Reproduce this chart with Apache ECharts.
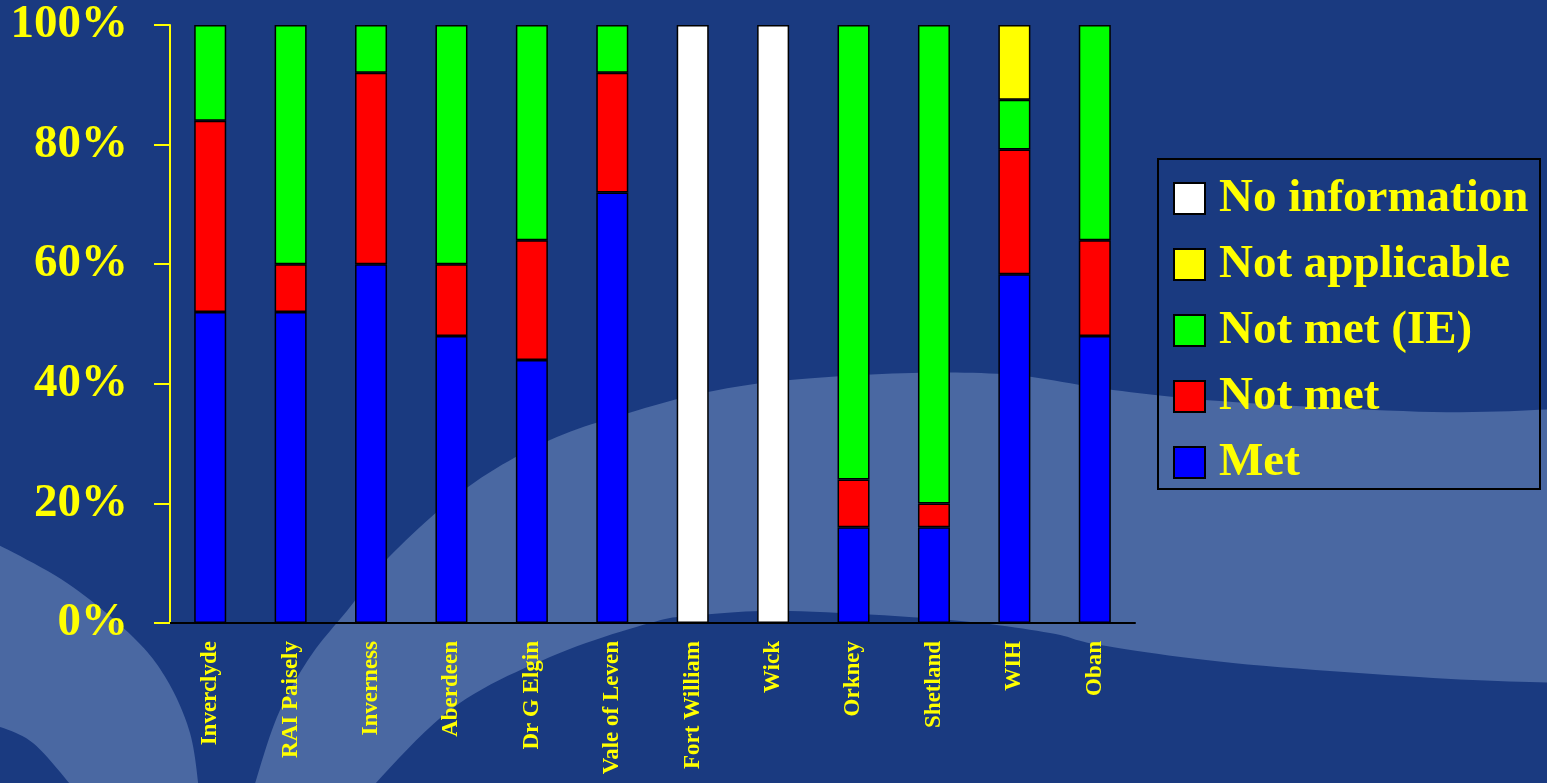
<!DOCTYPE html>
<html>
<head>
<meta charset="utf-8">
<script src="https://cdn.jsdelivr.net/npm/echarts@6/dist/echarts.min.js"></script>
<style>
html,body{margin:0;padding:0;background:#1a3a80;}
#chart{width:1547px;height:783px;}
</style>
</head>
<body>
<div id="chart"></div>
<script>
const categories = ['Inverclyde','RAI Paisely','Inverness','Aberdeen','Dr G Elgin','Vale of Leven','Fort William','Wick','Orkney','Shetland','WIH','Oban'];
const met           = [52, 52, 60, 48, 44, 72, null, null, 16, 16, 58.33, 48];
const notMet        = [32,  8, 32, 12, 20, 20, null, null,  8,  4, 20.83, 16];
const notMetIE      = [16, 40,  8, 40, 36,  8, null, null, 76, 80,  8.33, 36];
const notApplicable = [null, null, null, null, null, null, null, null, null, null, 12.5, null];
const noInformation = [null, null, null, null, null, null, 100, 100, null, null, null, null];
const legendOrder = ['No information','Not applicable','Not met (IE)','Not met','Met'];

const FONT = "'Liberation Serif','Times New Roman',serif";
const YEL = '#ffff00';
const DARK = '#1a3a80';
const LIGHT = '#4a68a2';

// sample a smooth Catmull-Rom curve through given outline points (background decoration only)
function smoothPts(pts) {
  const out = [];
  for (let i = 0; i < pts.length - 1; i++) {
    const p0 = pts[i - 1] || pts[i], p1 = pts[i], p2 = pts[i + 1], p3 = pts[i + 2] || p2;
    for (let k = 0; k < 12; k++) {
      const t = k / 12, t2 = t * t, t3 = t2 * t;
      const f = (a, b, c, d) => 0.5 * ((2 * b) + (-a + c) * t + (2 * a - 5 * b + 4 * c - d) * t2 + (-a + 3 * b - 3 * c + d) * t3);
      out.push([f(p0[0], p1[0], p2[0], p3[0]), f(p0[1], p1[1], p2[1], p3[1])]);
    }
  }
  out.push(pts[pts.length - 1]);
  return out;
}
const bandUpper = [[250,800],[277,717],[310,657],[350,607],[389,557],[468,487],[550,440],[632,412],[708,392],[790,380],[912,373],[1014,375],[1113,390],[1233,402],[1433,412],[1560,409]];
const bandLower = [[1560,683],[1433,678],[1233,663],[1100,645],[1050,633],[950,620],[790,611],[700,615],[650,623],[550,657],[450,710],[360,800]];
const leftUpper = [[-5,543],[67,583],[133,637],[167,680],[190,733],[199,790]];
const leftLower = [[75,790],[33,743],[-5,725]];
const bandPoly = smoothPts(bandUpper).concat(smoothPts(bandLower));
const leftPoly = smoothPts(leftUpper).concat(smoothPts(leftLower));

const chart = echarts.init(document.getElementById('chart'));
function mk(name, data, color) {
  return {
    name: name, type: 'bar', stack: 'total', data: data, barWidth: 32,
    itemStyle: { color: color, borderColor: '#000', borderWidth: 1.5 },
    emphasis: { disabled: true }
  };
}
chart.setOption({
  backgroundColor: DARK,
  animation: false,
  graphic: [
    { type: 'polygon', z: -10, silent: true, shape: { points: bandPoly }, style: { fill: LIGHT } },
    { type: 'polygon', z: -10, silent: true, shape: { points: leftPoly }, style: { fill: LIGHT } },
    { type: 'rect', z: 5, silent: true, shape: { x: 1158, y: 159, width: 382, height: 330 }, style: { fill: 'none', stroke: '#000', lineWidth: 2 } }
  ],
  grid: { left: 170, right: 412, top: 25, bottom: 160 },
  legend: {
    data: legendOrder, orient: 'vertical', left: 1173, top: 175, padding: 0,
    itemWidth: 31, itemHeight: 31, itemGap: 19, icon: 'rect',
    textStyle: { color: YEL, fontSize: 47, fontWeight: 'bold', fontFamily: FONT, lineHeight: 31, padding: [4, 0, 0, 9] }
  },
  xAxis: {
    type: 'category', data: categories,
    axisLine: { lineStyle: { color: '#000', width: 2 } },
    axisTick: { lineStyle: { color: '#000', width: 2 }, length: 9 },
    axisLabel: { rotate: 90, interval: 0, margin: 18, color: YEL, fontSize: 23, fontWeight: 'bold', fontFamily: FONT }
  },
  yAxis: {
    type: 'value', min: 0, max: 100, interval: 20,
    axisLine: { show: true, lineStyle: { color: YEL, width: 2 } },
    axisTick: { show: true, length: 16, lineStyle: { color: YEL, width: 2 } },
    splitLine: { show: false },
    axisLabel: { formatter: '{value}%', margin: 42, padding: [8, 0, 0, 0], color: YEL, fontSize: 47, fontWeight: 'bold', fontFamily: FONT }
  },
  series: [
    mk('Met', met, '#0000ff'),
    mk('Not met', notMet, '#ff0000'),
    mk('Not met (IE)', notMetIE, '#00ff00'),
    mk('Not applicable', notApplicable, '#ffff00'),
    mk('No information', noInformation, '#ffffff')
  ]
});
</script>
</body>
</html>
